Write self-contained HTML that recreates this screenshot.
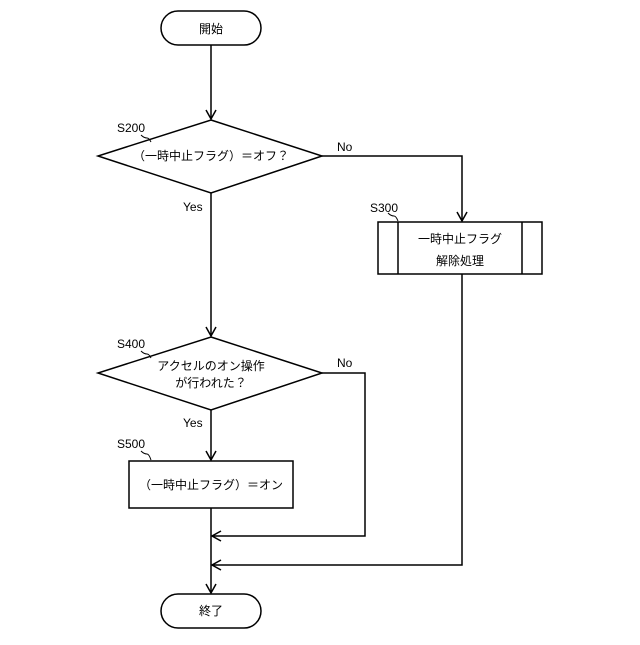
<!DOCTYPE html>
<html><head><meta charset="utf-8"><style>
html,body{margin:0;padding:0;background:#fff}
text{font-family:"Liberation Sans","Noto Sans CJK JP",sans-serif;font-size:12px;fill:#000}
</style></head><body>
<svg width="640" height="640" viewBox="0 0 640 640" xmlns="http://www.w3.org/2000/svg">
<defs><marker id="a" markerWidth="12" markerHeight="12" refX="10" refY="6" orient="auto" markerUnits="userSpaceOnUse"><path d="M1,1 L10,6 L1,11" fill="none" stroke="#000" stroke-width="1.5"/></marker></defs>
<g fill="none" stroke="#000" stroke-width="1.5">
<rect x="161" y="11" width="100" height="34" rx="17"/>
<line x1="211" y1="45" x2="211" y2="119" marker-end="url(#a)"/>
<polygon points="211,120 322,156 211,193 98,156" fill="#fff"/>
<polyline points="322,156 462,156 462,221" marker-end="url(#a)"/>
<rect x="378" y="222" width="164" height="52"/>
<line x1="398" y1="222" x2="398" y2="274"/>
<line x1="522" y1="222" x2="522" y2="274"/>
<line x1="211" y1="193" x2="211" y2="336" marker-end="url(#a)"/>
<polygon points="211,337 322,373 211,410 98,373" fill="#fff"/>
<line x1="211" y1="410" x2="211" y2="460" marker-end="url(#a)"/>
<rect x="129" y="461" width="164" height="47"/>
<polyline points="322,373 365,373 365,536 212,536" marker-end="url(#a)"/>
<polyline points="462,274 462,565 212,565" marker-end="url(#a)"/>
<line x1="211" y1="508" x2="211" y2="593" marker-end="url(#a)"/>
<rect x="161" y="594" width="100" height="34" rx="17"/>
<path d="M141,135 q3,3 6,3 q2,0 4,4" stroke-width="1"/>
<path d="M388,213 q3,3 6,3 q2,0 4,5" stroke-width="1"/>
<path d="M141,351 q3,3 6,3 q2,0 4,4" stroke-width="1"/>
<path d="M141,451 q3,3 6,3 q2,0 4,6" stroke-width="1"/>
</g>
<text x="211" y="33" text-anchor="middle">開始</text>
<text x="211" y="160" text-anchor="middle">（一時中止フラグ）＝オフ？</text>
<text x="117" y="132">S200</text>
<text x="337" y="151">No</text>
<text x="183" y="211">Yes</text>
<text x="370" y="212">S300</text>
<text x="460" y="243" text-anchor="middle">一時中止フラグ</text>
<text x="460" y="265" text-anchor="middle">解除処理</text>
<text x="117" y="348">S400</text>
<text x="211" y="370" text-anchor="middle">アクセルのオン操作</text>
<text x="211" y="387" text-anchor="middle">が行われた？</text>
<text x="337" y="367">No</text>
<text x="183" y="427">Yes</text>
<text x="117" y="448">S500</text>
<text x="211" y="489" text-anchor="middle">（一時中止フラグ）＝オン</text>
<text x="211" y="615" text-anchor="middle">終了</text>
</svg>
</body></html>
